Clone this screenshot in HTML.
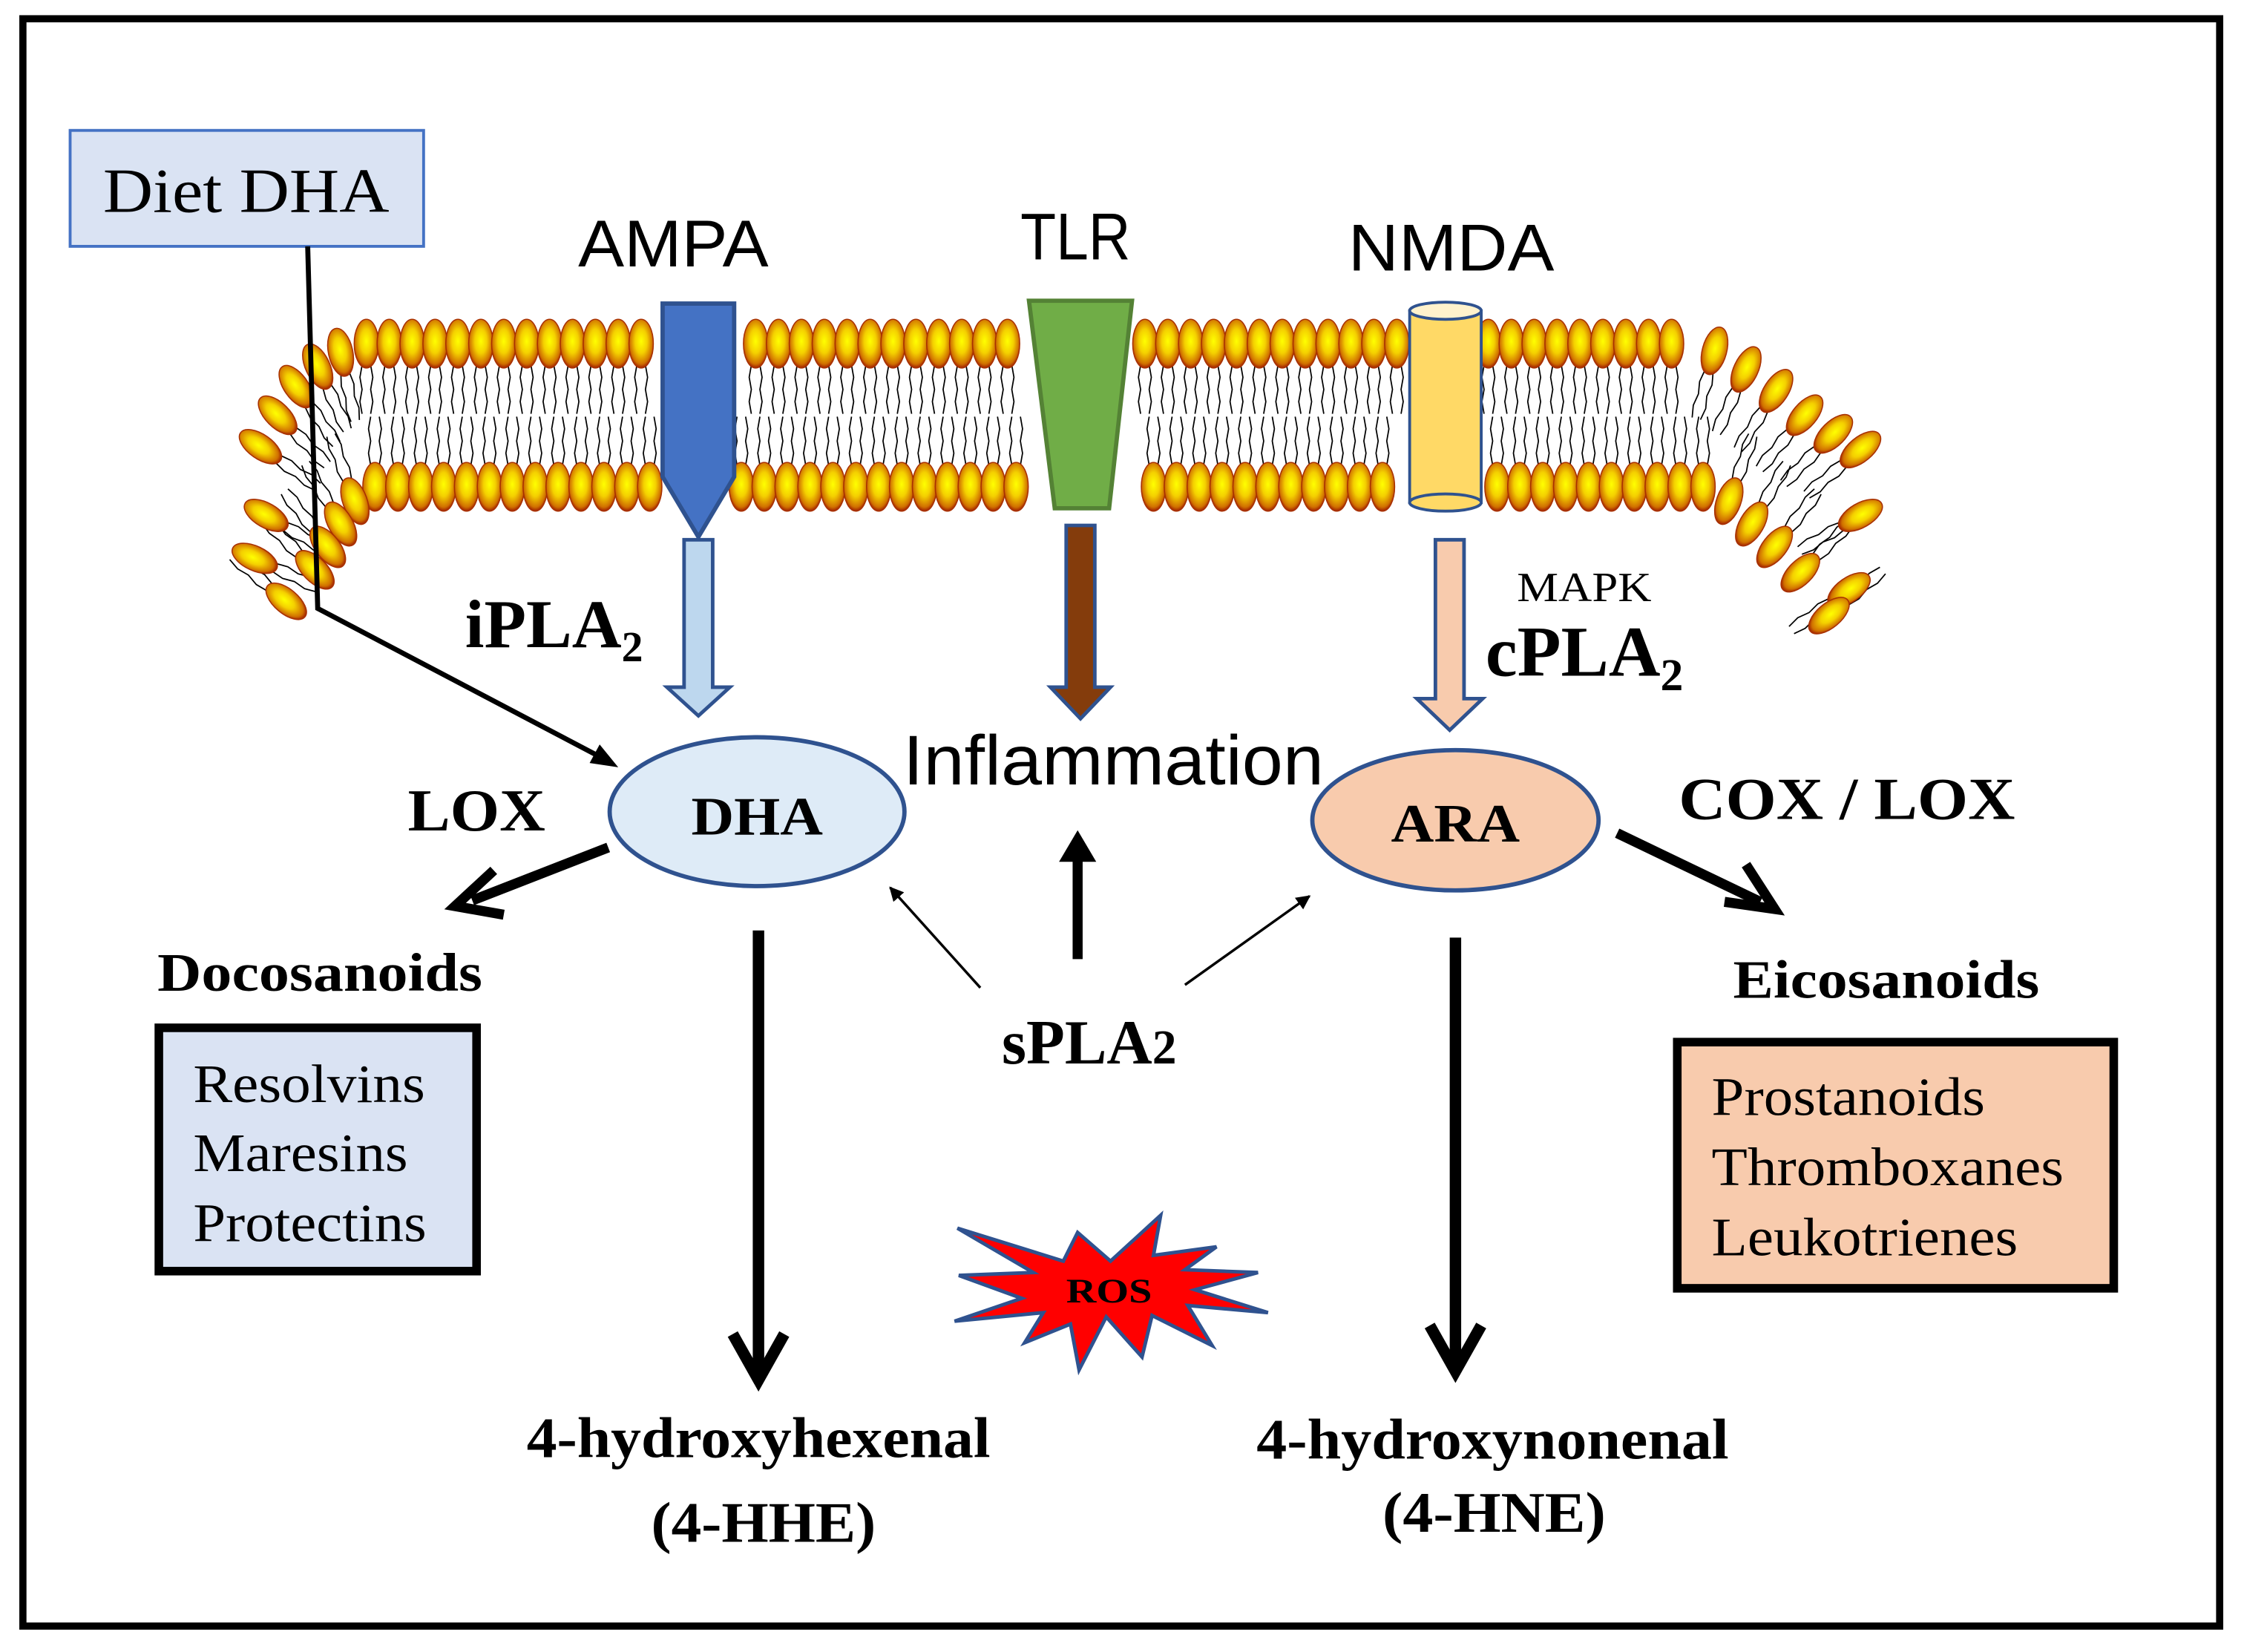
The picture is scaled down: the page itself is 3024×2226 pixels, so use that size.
<!DOCTYPE html>
<html><head><meta charset="utf-8"><style>
html,body{margin:0;padding:0;background:#fff}
svg{display:block}
.s{font-family:"Liberation Sans",sans-serif}
.r{font-family:"Liberation Serif",serif}
.b{font-family:"Liberation Serif",serif;font-weight:bold}
</style></head><body>
<svg id="m" width="3024" height="2226" viewBox="0 0 1568 1154" xmlns="http://www.w3.org/2000/svg">
<defs>
<radialGradient id="hg" cx="50%" cy="45%" r="55%">
<stop offset="0" stop-color="#ffff00"/><stop offset="0.45" stop-color="#f4d000"/><stop offset="0.85" stop-color="#d07000"/><stop offset="1" stop-color="#a02000"/>
</radialGradient>
<marker id="ah" markerWidth="10" markerHeight="10" refX="9" refY="5" orient="auto" markerUnits="userSpaceOnUse"><path d="M0,0 L10,5 L0,10 Z" fill="#000"/></marker>
</defs>
<rect x="0" y="0" width="1568" height="1154" fill="#fff"/>
<rect x="16" y="13" width="1535" height="1123" fill="none" stroke="#000" stroke-width="5"/>
<g id="mem"></g>

<rect x="49" y="91" width="247" height="81" fill="#dae3f3" stroke="#4472c4" stroke-width="2"/>
<text x="72" y="148" class="r" font-size="44" textLength="200" lengthAdjust="spacingAndGlyphs">Diet DHA</text>
<polyline points="215,172 222,425 418,528" fill="none" stroke="#000" stroke-width="3.5"/>
<path d="M432,536 L412,533 L419,520 Z" fill="#000"/>

<text x="404" y="186" class="s" font-size="46" textLength="133" lengthAdjust="spacingAndGlyphs">AMPA</text>
<path d="M463,212 L513,212 L513,333 L488,375 L463,333 Z" fill="#4472c4" stroke="#2f528f" stroke-width="3"/>
<path d="M478,377 L498,377 L498,480 L510,480 L488,500 L466,480 L478,480 Z" fill="#bdd7ee" stroke="#2f528f" stroke-width="2.5"/>
<text x="325" y="452" class="b" font-size="48">iPLA<tspan font-size="30" dy="10">2</tspan></text>

<text x="713" y="181" class="s" font-size="46" textLength="77" lengthAdjust="spacingAndGlyphs">TLR</text>
<path d="M719,210 L791,210 L775,355 L737,355 Z" fill="#70ad47" stroke="#548235" stroke-width="3"/>
<path d="M745,367 L765,367 L765,480 L776,480 L755,502 L734,480 L745,480 Z" fill="#843c0c" stroke="#2f528f" stroke-width="2.5"/>

<text x="942" y="189" class="s" font-size="46" textLength="144" lengthAdjust="spacingAndGlyphs">NMDA</text>
<rect x="985" y="217" width="50" height="134" fill="#ffd966" stroke="#2f528f" stroke-width="2"/>
<ellipse cx="1010" cy="351" rx="25" ry="6" fill="#ffd966" stroke="#2f528f" stroke-width="2"/>
<ellipse cx="1010" cy="217" rx="25" ry="6" fill="#fff2cc" stroke="#2f528f" stroke-width="2"/>
<path d="M1003,377 L1023,377 L1023,488 L1036,488 L1013,510 L990,488 L1003,488 Z" fill="#f8cbad" stroke="#2f528f" stroke-width="2.5"/>
<text x="1060" y="420" class="r" font-size="29" textLength="94" lengthAdjust="spacingAndGlyphs">MAPK</text>
<text x="1038" y="472" class="b" font-size="50">cPLA<tspan font-size="32" dy="10">2</tspan></text>

<ellipse cx="529" cy="567" rx="103" ry="52" fill="#deebf7" stroke="#2f528f" stroke-width="3"/>
<text x="483" y="583" class="b" font-size="38" textLength="92" lengthAdjust="spacingAndGlyphs">DHA</text>
<ellipse cx="1017" cy="573" rx="100" ry="49" fill="#f8cbad" stroke="#2f528f" stroke-width="3"/>
<text x="972" y="588" class="b" font-size="38" textLength="90" lengthAdjust="spacingAndGlyphs">ARA</text>
<text x="631" y="548" class="s" font-size="49" textLength="294" lengthAdjust="spacingAndGlyphs">Inflammation</text>

<text x="285" y="580" class="b" font-size="42" textLength="96" lengthAdjust="spacingAndGlyphs">LOX</text>
<text x="1173" y="572" class="b" font-size="42" textLength="235" lengthAdjust="spacingAndGlyphs">COX / LOX</text>

<line x1="425" y1="592" x2="330" y2="629" stroke="#000" stroke-width="7"/>
<polyline points="345,608 318,633 352,639" fill="none" stroke="#000" stroke-width="7"/>
<line x1="1130" y1="582" x2="1230" y2="630" stroke="#000" stroke-width="7"/>
<polyline points="1205,630 1240,635 1220,604" fill="none" stroke="#000" stroke-width="7"/>

<text x="110" y="692" class="b" font-size="38" textLength="227" lengthAdjust="spacingAndGlyphs">Docosanoids</text>
<rect x="111" y="718" width="222" height="170" fill="#dae3f3" stroke="#000" stroke-width="6"/>
<text x="135" y="770" class="r" font-size="38" textLength="162" lengthAdjust="spacingAndGlyphs">Resolvins</text>
<text x="135" y="818" class="r" font-size="38" textLength="150" lengthAdjust="spacingAndGlyphs">Maresins</text>
<text x="135" y="867" class="r" font-size="38" textLength="163" lengthAdjust="spacingAndGlyphs">Protectins</text>

<text x="1211" y="697" class="b" font-size="38" textLength="214" lengthAdjust="spacingAndGlyphs">Eicosanoids</text>
<rect x="1172" y="728" width="305" height="172" fill="#f8cbad" stroke="#000" stroke-width="6"/>
<text x="1196" y="779" class="r" font-size="38" textLength="191" lengthAdjust="spacingAndGlyphs">Prostanoids</text>
<text x="1196" y="828" class="r" font-size="38" textLength="246" lengthAdjust="spacingAndGlyphs">Thromboxanes</text>
<text x="1196" y="877" class="r" font-size="38" textLength="214" lengthAdjust="spacingAndGlyphs">Leukotrienes</text>

<line x1="530" y1="650" x2="530" y2="962" stroke="#000" stroke-width="8"/>
<polyline points="512,932 530,964 548,932" fill="none" stroke="#000" stroke-width="8"/>
<line x1="1017" y1="655" x2="1017" y2="956" stroke="#000" stroke-width="8"/>
<polyline points="999,926 1017,958 1035,926" fill="none" stroke="#000" stroke-width="8"/>

<text x="368" y="1018" class="b" font-size="40" textLength="324" lengthAdjust="spacingAndGlyphs">4-hydroxyhexenal</text>
<text x="455" y="1077" class="b" font-size="40" textLength="157" lengthAdjust="spacingAndGlyphs">(4-HHE)</text>
<text x="878" y="1019" class="b" font-size="40" textLength="330" lengthAdjust="spacingAndGlyphs">4-hydroxynonenal</text>
<text x="966" y="1070" class="b" font-size="40" textLength="156" lengthAdjust="spacingAndGlyphs">(4-HNE)</text>

<line x1="753" y1="670" x2="753" y2="600" stroke="#000" stroke-width="7"/>
<path d="M740,602 L753,580 L766,602 Z" fill="#000"/>
<text x="700" y="743" class="b" font-size="44">sPLA<tspan font-size="34">2</tspan></text>
<line x1="685" y1="690" x2="622" y2="620" stroke="#000" stroke-width="1.8" marker-end="url(#ah)"/>
<line x1="828" y1="688" x2="915" y2="626" stroke="#000" stroke-width="1.8" marker-end="url(#ah)"/>

<polygon points="669,858 743,881 753,861 776,881 811,849 806,877 850,871 828,887 879,889 835,901 886,917 830,912 847,940 805,919 798,948 773,920 754,957 748,925 716,938 729,917 667,923 714,907 670,891 722,889" fill="#ff0000" stroke="#2f528f" stroke-width="2.5"/>
<text x="745" y="910" class="b" font-size="24" textLength="60" lengthAdjust="spacingAndGlyphs">ROS</text>
</svg>
<script>
(function(){
var ns="http://www.w3.org/2000/svg",g=document.getElementById("mem");
function el(t,a){var e=document.createElementNS(ns,t);for(var k in a)e.setAttribute(k,a[k]);g.appendChild(e);return e;}
var gaps=[[458,518],[715,795],[980,1040]];
function inGap(x){for(var i=0;i<gaps.length;i++)if(x>gaps[i][0]&&x<gaps[i][1])return true;return false;}
var top=[],bot=[];
for(var x=256;x<=1178;x+=16)top.push([x,240,0]);
[[238,246,-12],[222,256,-25],[207,270,-35],[194,290,-45],[182,312,-55],[186,360,-60],[178,390,-65]].forEach(function(p){top.push(p)});
[[1198,245,15],[1220,258,25],[1241,273,33],[1261,290,40],[1281,303,45],[1300,314,50],[1300,360,60],[1292,412,55]].forEach(function(p){top.push(p)});
for(var x=262;x<=1192;x+=16)bot.push([x,340,0]);
[[248,350,-20],[238,366,-30],[229,382,-38],[220,398,-45],[200,420,-50]].forEach(function(p){bot.push(p)});
[[1208,350,20],[1224,366,30],[1240,382,38],[1258,400,45],[1278,430,50]].forEach(function(p){bot.push(p)});
function tail(p,d){
 var a=p[2]*Math.PI/180;
 var ux=-Math.sin(a)*d, uy=Math.cos(a)*d;
 var px=Math.cos(a), py=Math.sin(a);
 var sx=p[0]+ux*15, sy=p[1]+uy*15, L=34;
 for(var k=-1;k<=1;k+=2){
  var pts=[];
  for(var s=0;s<=4;s++){
   var t=s/4*L, z=k*3+(s%2?k*1.5:0);
   pts.push((sx+ux*t+px*z).toFixed(1)+","+(sy+uy*t+py*z).toFixed(1));
  }
  el("polyline",{points:pts.join(" "),fill:"none",stroke:"#000","stroke-width":"0.9"});
 }
}
function skip(p){return p[2]==0&&inGap(p[0]);}
top.forEach(function(p){if(!skip(p))tail(p,1)});
bot.forEach(function(p){if(!skip(p))tail(p,-1)});
function head(p){
 if(skip(p))return;
 el("ellipse",{cx:p[0],cy:p[1],rx:8.5,ry:17,fill:"url(#hg)",stroke:"#a83000","stroke-width":"0.8",transform:"rotate("+p[2]+" "+p[0]+" "+p[1]+")"});
}
top.forEach(head);bot.forEach(head);
})();
</script>
</body></html>
